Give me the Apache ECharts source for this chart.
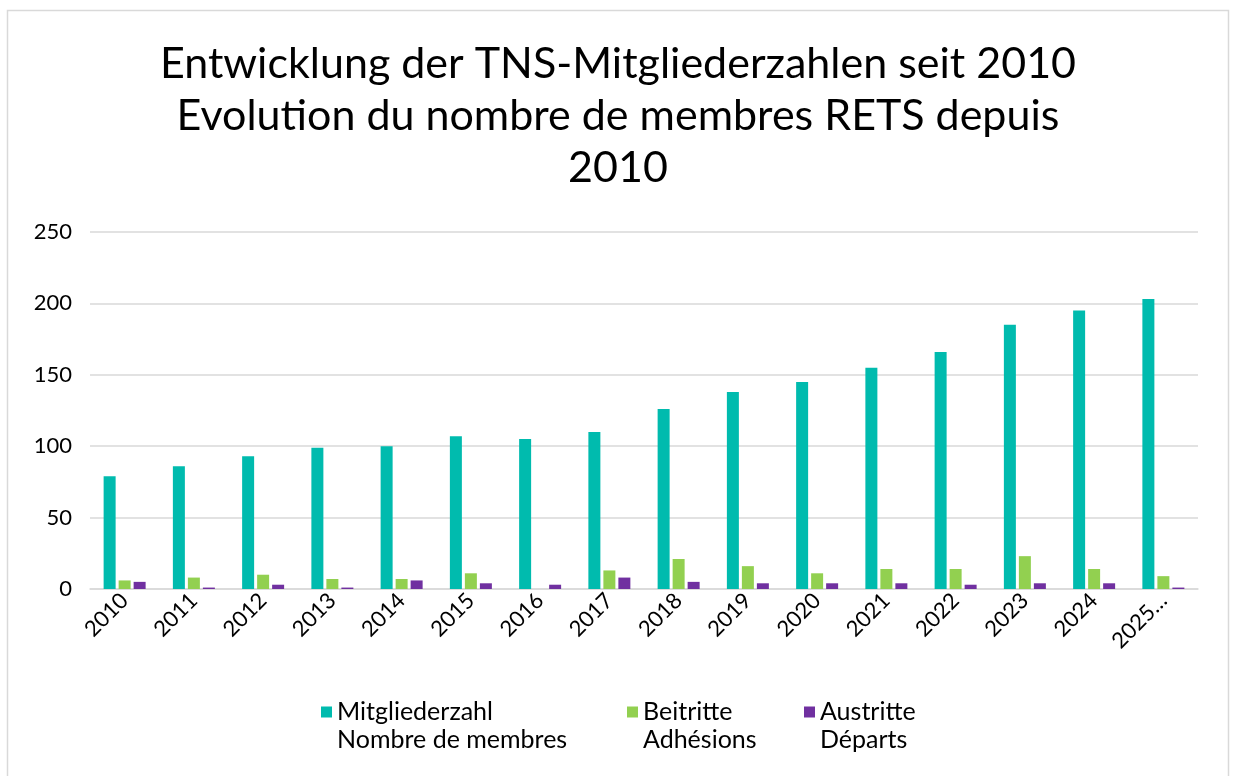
<!DOCTYPE html>
<html>
<head>
<meta charset="utf-8">
<script src="https://cdn.jsdelivr.net/npm/echarts@6/dist/echarts.min.js"></script>
<style>
  html, body { margin: 0; padding: 0; background: #fff; }
  #chart { width: 1236px; height: 776px; }
</style>
</head>
<body>
<div id="chart"></div>
<script>
const years = ['2010', '2011', '2012', '2013', '2014', '2015', '2016', '2017',
               '2018', '2019', '2020', '2021', '2022', '2023', '2024', '2025…'];
const members = [79, 86, 93, 99, 100, 107, 105, 110, 126, 138, 145, 155, 166, 185, 195, 203];
const joins = [6, 8, 10, 7, 7, 11, 0, 13, 21, 16, 11, 14, 14, 23, 14, 9];
const leaves = [5, 1, 3, 1, 6, 4, 3, 8, 5, 4, 4, 4, 3, 4, 4, 1];
const yTicks = [0, 50, 100, 150, 200, 250];

const titleText = 'Entwicklung der TNS-Mitgliederzahlen seit 2010\nEvolution du nombre de membres RETS depuis\n2010';
const seriesNames = ['Mitgliederzahl\nNombre de membres', 'Beitritte\nAdhésions', 'Austritte\nDéparts'];
const colors = ['#00BBAE', '#92D050', '#7030A0'];

const font = 'Lato, "Noto Sans", sans-serif';

const chart = echarts.init(document.getElementById('chart'));

const makeBar = (name, data, color) => ({
    name: name,
    type: 'bar',
    data: data,
    barWidth: 12,
    barGap: '25%',
    itemStyle: { color: color },
    emphasis: { disabled: true }
});

// one legend per item so each can sit where the original has it
const legendLeft = [321, 627, 804];
const makeLegend = (name, i) => ({
    left: legendLeft[i],
    top: 670,
    padding: 0,
    itemWidth: 11,
    itemHeight: 11,
    icon: 'rect',
    data: [name],
    // leading blank line puts the icon level with the first text line
    formatter: n => '\n' + n,
    textStyle: {
        fontFamily: font,
        fontSize: 25,
        color: '#000',
        lineHeight: 28
    }
});

chart.setOption({
    animation: false,
    textStyle: { fontFamily: font },
    graphic: [{
        type: 'rect',
        shape: { x: 7.5, y: 10.5, width: 1221, height: 790 },
        style: { fill: 'none', stroke: '#d9d9d9', lineWidth: 1.5 },
        silent: true
    }],
    title: {
        text: titleText,
        left: 'center',
        top: 33,
        textStyle: {
            fontFamily: font,
            fontSize: 43,
            fontWeight: 'normal',
            color: '#000',
            lineHeight: 52
        }
    },
    legend: seriesNames.map(makeLegend),
    grid: {
        left: 90,
        right: 38,
        top: 232,
        bottom: 187
    },
    xAxis: {
        type: 'category',
        data: years,
        axisTick: { show: false },
        axisLine: { lineStyle: { color: '#d9d9d9', width: 1.5 } },
        axisLabel: {
            rotate: 45,
            interval: 0,
            fontFamily: font,
            fontSize: 22,
            color: '#000',
            margin: 8
        }
    },
    yAxis: {
        type: 'value',
        min: yTicks[0],
        max: yTicks[yTicks.length - 1],
        interval: 50,
        axisLine: { show: false },
        axisTick: { show: false },
        splitLine: { lineStyle: { color: '#d9d9d9', width: 1.5 } },
        axisLabel: {
            fontFamily: font,
            fontSize: 22,
            color: '#000',
            margin: 18
        }
    },
    series: [
        makeBar(seriesNames[0], members, colors[0]),
        makeBar(seriesNames[1], joins, colors[1]),
        makeBar(seriesNames[2], leaves, colors[2])
    ]
});
</script>
</body>
</html>
